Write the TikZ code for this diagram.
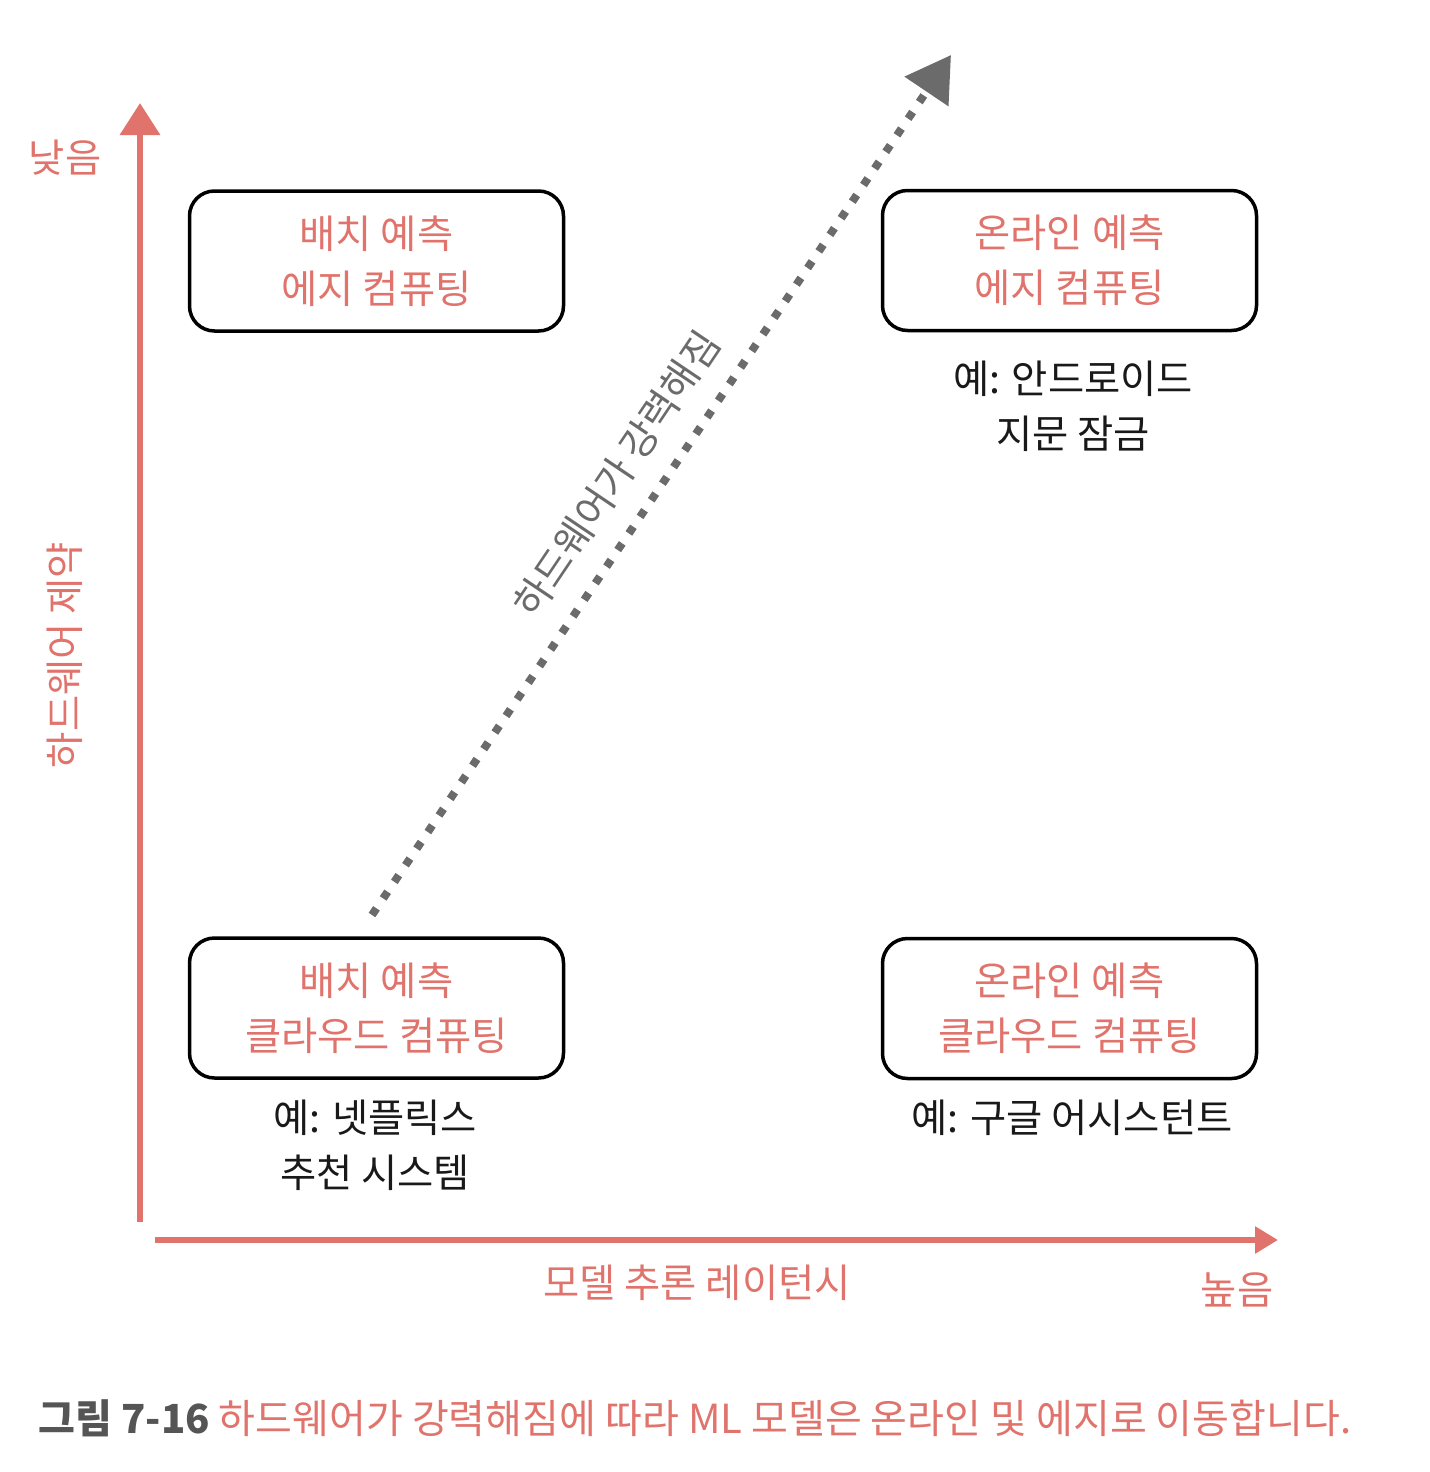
\documentclass[tikz,border=0pt]{standalone}
\usepackage{fontspec}
\setmainfont{Noto Sans CJK KR}
\usetikzlibrary{arrows.meta}
\definecolor{latred}{HTML}{E0736B}
\definecolor{hwgray}{HTML}{6B6B6B}
\definecolor{capgray}{HTML}{555555}
\tikzset{
  txt/.style={font=\fontsize{11.2pt}{15.6pt}\selectfont, align=center},
  modebox/.style={txt, draw=black, line width=0.035cm, rounded corners=0.25cm,
    minimum width=3.74cm, minimum height=1.40cm, text=latred},
  example/.style={txt, text=black!90},
  axis/.style={latred, line width=0.065cm},
}

\begin{document}
\begin{tikzpicture}
			\useasboundingbox (0,0) rectangle (14.3,-14.72);

			% axes
			\coordinate (ybot) at (1.40,-12.22);
			\coordinate (ytop) at (1.40,-1.03);
			\coordinate (xleft) at (1.55,-12.40);
			\coordinate (xright) at (12.78,-12.40);
			\draw[axis,-{Triangle[length=0.32cm,width=0.39cm]}] (ybot) -- (ytop);
			\draw[axis,line width=0.06cm,-{Triangle[length=0.23cm,width=0.26cm]}] (xleft) -- (xright);

			\node[txt,text=latred] (low) at (0.65,-1.58) {낮음};
			\node[txt,text=latred] (high) at (12.37,-12.90) {높음};
			\node[txt,text=latred] (latency) at (6.97,-12.83) {모델 추론 레이턴시};
			\node[txt,text=latred,rotate=90] (constraint) at (0.65,-6.55) {하드웨어 제약};

			% the four quadrants
			\foreach \name/\x/\y/\kind/\place in {tl/3.765/-2.61/배치/에지,
				tr/10.695/-2.605/온라인/에지, bl/3.765/-10.08/배치/클라우드,
				br/10.695/-10.085/온라인/클라우드} {
				\node[modebox] (\name) at (\x,\y) {\kind\ 예측\\\place\ 컴퓨팅};
			};

			\node[example] (trex) at (10.73,-4.06) {예: 안드로이드\\지문 잠금};
			\node[example] (blex) at (3.75,-11.45) {예: 넷플릭스\\추천 시스템};
			\node[example] (brex) at (10.72,-11.18) {예: 구글 어시스턴트};

			% hardware trend
			\coordinate (trendstart) at (3.72,-9.15);
			\coordinate (trendtip) at (9.51,-0.55);
			\draw[hwgray,line width=0.08cm,dash pattern=on 0.08cm off 0.12cm,
				-{Triangle[length=0.44cm,width=0.51cm]}] (trendstart) -- node[txt,text=hwgray,sloped,above=0.1cm,pos=0.485] (trendlabel) {하드웨어가 강력해짐} (trendtip);

			% caption
			\node[txt,anchor=west,font=\fontsize{11.4pt}{14pt}\selectfont] (caption) at (0.26,-14.18) {\textcolor{capgray}{\bfseries 그림 7-16} \textcolor{latred}{하드웨어가 강력해짐에 따라 ML 모델은 온라인 및 에지로 이동합니다.}};
		\end{tikzpicture}
\end{document}
